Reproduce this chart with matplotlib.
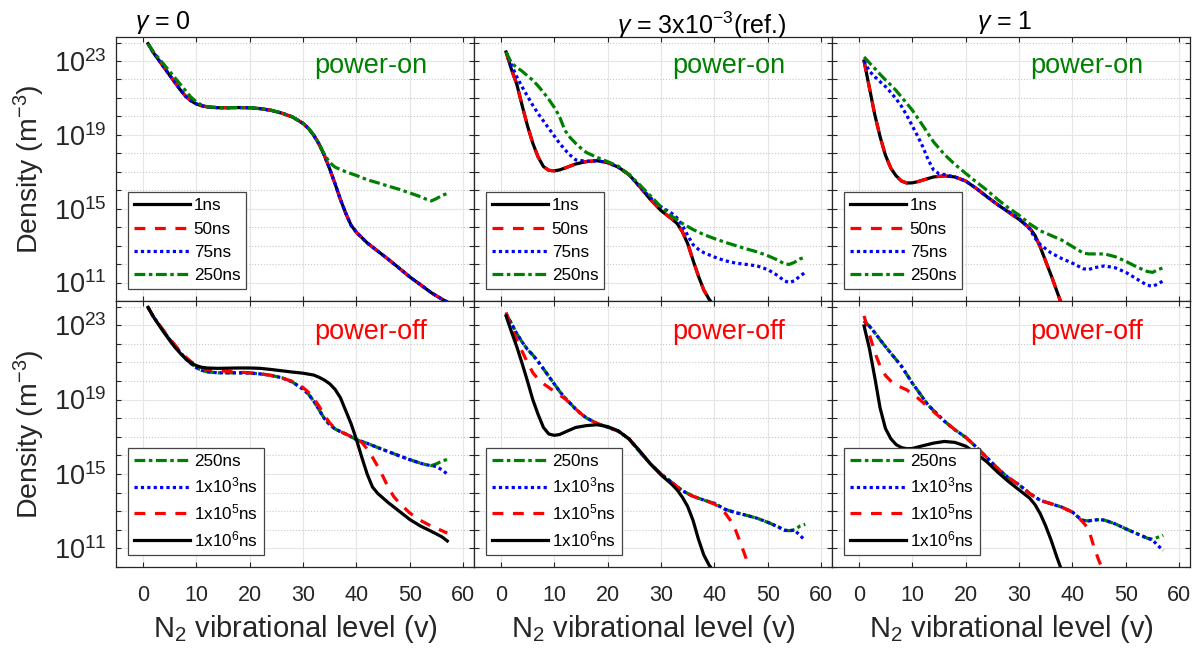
import numpy as np
import matplotlib
matplotlib.use("Agg")
import matplotlib.pyplot as plt
from matplotlib.ticker import FixedLocator, LogFormatterSciNotation, NullFormatter

plt.rcParams["font.family"] = ["Liberation Sans", "DejaVu Sans"]
plt.rcParams["mathtext.fontset"] = "custom"
plt.rcParams["mathtext.rm"] = "Liberation Sans"
plt.rcParams["mathtext.it"] = "Liberation Sans:italic"
plt.rcParams["mathtext.default"] = "regular"

# ---------------- DATA (log10 of density, m^-3) ----------------

# gamma = 0, power-on
v_on0 = [1, 2, 3, 4, 5, 6, 7, 8, 9, 10, 11, 12, 14, 16, 18, 20, 22, 24, 26, 28, 29, 30,
         31, 32, 33, 34, 35, 36, 37, 38, 39, 40, 42, 44, 46, 48, 50, 52, 54, 56, 57]
on0_1ns = [23.94, 23.45, 23.05, 22.65, 22.25, 21.85, 21.45, 21.1, 20.85, 20.68, 20.58, 20.52,
           20.47, 20.47, 20.48, 20.47, 20.42, 20.33, 20.18, 19.97, 19.8, 19.62, 19.35, 18.98,
           18.5, 17.88, 17.15, 16.35, 15.5, 14.75, 14.1, 13.72, 13.15, 12.7, 12.25, 11.78,
           11.3, 10.88, 10.45, 10.1, 9.95]
on0_50ns = list(on0_1ns)
on0_75ns = list(on0_1ns)
v_on0_250 = [1, 2, 3, 4, 5, 6, 7, 8, 9, 10, 11, 12, 14, 16, 18, 20, 22, 24, 26, 28, 30, 31,
             32, 33, 34, 35, 36, 38, 40, 42, 44, 46, 48, 50, 52, 53, 54, 55, 56, 57]
on0_250ns = [23.94, 23.5, 23.15, 22.8, 22.45, 22.1, 21.75, 21.4, 21.05, 20.8, 20.62, 20.53,
             20.48, 20.47, 20.48, 20.47, 20.42, 20.34, 20.19, 19.98, 19.63, 19.37, 19.0,
             18.52, 17.95, 17.5, 17.25, 17.0, 16.8, 16.57, 16.4, 16.22, 16.05, 15.85, 15.65,
             15.52, 15.42, 15.55, 15.72, 15.82]

# gamma = 0, power-off
v_off0 = [1, 2, 3, 4, 5, 6, 7, 8, 9, 10, 11, 12, 14, 16, 18, 20, 22, 24, 26, 28, 30, 31, 32,
          33, 34, 35, 36, 37, 38, 40, 42, 44, 46, 48, 50, 52, 53, 54, 55, 56, 57]
off0_250ns = [23.96, 23.45, 23.05, 22.65, 22.25, 21.9, 21.55, 21.2, 20.95, 20.72, 20.58, 20.5,
              20.44, 20.44, 20.44, 20.43, 20.38, 20.3, 20.18, 19.95, 19.56, 19.3, 18.92,
              18.45, 17.98, 17.65, 17.42, 17.28, 17.15, 16.85, 16.65, 16.42, 16.2, 15.98,
              15.77, 15.58, 15.5, 15.45, 15.55, 15.7, 15.78]
off0_1e3ns = [23.96, 23.45, 23.05, 22.65, 22.25, 21.9, 21.55, 21.2, 20.95, 20.72, 20.58, 20.5,
              20.44, 20.44, 20.44, 20.43, 20.38, 20.3, 20.18, 19.95, 19.56, 19.3, 18.92,
              18.45, 17.98, 17.65, 17.42, 17.28, 17.15, 16.85, 16.65, 16.42, 16.2, 15.98,
              15.77, 15.58, 15.5, 15.45, 15.4, 15.22, 15.0]
v_off0_1e5 = [1, 2, 3, 4, 5, 6, 7, 8, 9, 10, 11, 12, 14, 16, 18, 20, 22, 24, 26, 28, 30, 31,
              32, 33, 34, 35, 36, 37, 38, 40, 41, 42, 43, 44, 45, 46, 47, 48, 50, 52, 54, 56, 57]
off0_1e5ns = [23.96, 23.45, 23.05, 22.68, 22.3, 21.95, 21.6, 21.3, 21.05, 20.85, 20.72, 20.62,
              20.55, 20.52, 20.48, 20.44, 20.4, 20.3, 20.17, 19.98, 19.65, 19.4, 19.05, 18.65,
              18.15, 17.75, 17.45, 17.28, 17.15, 16.88, 16.7, 16.35, 15.9, 15.4, 14.85, 14.25,
              13.78, 13.45, 12.9, 12.5, 12.2, 11.95, 11.82]
v_off0_1e6 = [1, 2, 3, 4, 5, 6, 7, 8, 9, 10, 11, 12, 14, 16, 18, 20, 22, 24, 26, 28, 30, 32,
              33, 34, 35, 36, 37, 38, 39, 40, 41, 42, 43, 44, 46, 48, 50, 52, 54, 56, 57]
off0_1e6ns = [23.96, 23.45, 23.02, 22.6, 22.2, 21.82, 21.5, 21.2, 20.98, 20.83, 20.74, 20.7,
              20.68, 20.69, 20.7, 20.7, 20.68, 20.62, 20.55, 20.48, 20.42, 20.32, 20.2, 20.05,
              19.85, 19.55, 19.1, 18.4, 17.7, 16.85, 15.9, 15.0, 14.3, 13.95, 13.45, 13.0,
              12.55, 12.2, 11.92, 11.62, 11.4]

# gamma = 3e-3, power-on
v_on3_1 = [1, 2, 3, 4, 5, 6, 7, 8, 9, 10, 11, 12, 14, 16, 18, 20, 22, 24, 26, 28, 30, 32, 33,
           34, 35, 36, 37, 38, 39, 40]
on3_1ns = [23.49, 22.55, 21.75, 20.6, 19.5, 18.55, 17.8, 17.28, 17.08, 17.05, 17.1, 17.2, 17.42,
           17.55, 17.6, 17.5, 17.25, 16.85, 16.2, 15.5, 14.9, 14.45, 14.2, 13.75, 13.1, 12.2,
           11.35, 10.6, 10.1, 9.7]
on3_50ns = list(on3_1ns)
v_on3_75 = [1, 2, 3, 4, 5, 6, 7, 8, 9, 10, 11, 12, 13, 14, 16, 18, 20, 22, 24, 26, 28, 30, 32,
            33, 34, 35, 36, 37, 38, 40, 42, 44, 46, 48, 50, 52, 53, 54, 55, 56, 57]
on3_75ns = [23.49, 22.8, 22.15, 21.6, 21.1, 20.6, 20.15, 19.75, 19.35, 18.95, 18.55, 18.2, 17.9,
            17.65, 17.57, 17.6, 17.5, 17.25, 16.85, 16.2, 15.6, 15.1, 14.75, 14.5, 14.1, 13.55,
            13.05, 12.8, 12.62, 12.38, 12.18, 12.05, 11.98, 11.9, 11.7, 11.35, 11.1, 11.0, 11.1,
            11.35, 11.55]
v_on3_250 = [1, 2, 3, 4, 5, 6, 7, 8, 9, 10, 11, 12, 13, 14, 15, 16, 18, 20, 22, 24, 26, 28, 30,
             32, 34, 36, 38, 40, 42, 44, 46, 48, 50, 52, 53, 54, 55, 56, 57]
on3_250ns = [23.49, 22.9, 22.65, 22.45, 22.2, 21.96, 21.65, 21.3, 20.92, 20.5, 20.0, 19.25,
             18.85, 18.55, 18.28, 18.05, 17.78, 17.55, 17.3, 16.85, 16.3, 15.7, 15.1, 14.6,
             14.2, 13.87, 13.6, 13.38, 13.18, 13.0, 12.82, 12.66, 12.45, 12.2, 12.02, 11.98,
             12.1, 12.28, 12.38]

# gamma = 3e-3, power-off
v_off3 = [1, 2, 3, 4, 5, 6, 7, 8, 9, 10, 11, 12, 13, 14, 15, 16, 18, 20, 22, 24, 26, 28, 30,
          32, 34, 36, 38, 40, 42, 44, 46, 48, 50, 52, 53, 54, 55, 56, 57]
off3_250ns = [23.59, 23.1, 22.55, 22.1, 21.7, 21.4, 21.05, 20.65, 20.25, 19.85, 19.45, 19.1,
              18.8, 18.5, 18.25, 18.02, 17.72, 17.52, 17.3, 16.9, 16.2, 15.55, 15.0, 14.55,
              14.1, 13.8, 13.6, 13.42, 13.1, 12.92, 12.78, 12.62, 12.4, 12.15, 11.98, 11.95,
              12.0, 12.2, 12.3]
off3_1e3ns = [23.59, 23.1, 22.55, 22.1, 21.7, 21.4, 21.05, 20.65, 20.25, 19.85, 19.45, 19.1,
              18.8, 18.5, 18.25, 18.02, 17.72, 17.52, 17.3, 16.9, 16.2, 15.55, 15.0, 14.55,
              14.1, 13.8, 13.6, 13.42, 13.1, 12.92, 12.78, 12.62, 12.4, 12.15, 11.98, 11.95,
              11.98, 11.7, 11.43]
v_off3_1e5 = [1, 2, 3, 4, 5, 6, 7, 8, 9, 10, 11, 12, 13, 14, 15, 16, 18, 20, 22, 24, 26, 28,
              30, 32, 34, 36, 38, 40, 41, 42, 43, 44, 45, 46, 47]
off3_1e5ns = [23.69, 22.9, 22.2, 21.6, 21.0, 20.45, 20.1, 19.85, 19.65, 19.45, 19.25, 19.05,
              18.8, 18.5, 18.25, 18.02, 17.72, 17.52, 17.3, 16.9, 16.2, 15.55, 15.0, 14.55,
              14.1, 13.8, 13.6, 13.38, 13.2, 12.9, 12.5, 11.95, 11.2, 10.4, 9.7]
v_off3_1e6 = [1, 2, 3, 4, 5, 6, 7, 8, 9, 10, 11, 12, 14, 16, 18, 20, 22, 24, 26, 28, 30, 32,
              33, 34, 35, 36, 37, 38, 39, 40]
off3_1e6ns = [23.5, 22.65, 21.85, 20.95, 20.0, 19.0, 18.2, 17.5, 17.15, 17.08, 17.12, 17.25,
              17.5, 17.6, 17.65, 17.55, 17.32, 16.88, 16.25, 15.55, 14.95, 14.45, 14.15, 13.75,
              13.25, 12.5, 11.5, 10.65, 10.1, 9.7]

# gamma = 1, power-on
v_on1_1 = [1, 2, 3, 4, 5, 6, 7, 8, 9, 10, 11, 12, 14, 16, 18, 20, 22, 24, 26, 28, 30, 32, 33,
           34, 35, 36, 37, 38]
on1_1ns = [23.0, 21.55, 20.1, 18.9, 17.9, 17.2, 16.78, 16.5, 16.39, 16.4, 16.46, 16.55, 16.72,
           16.78, 16.72, 16.5, 16.1, 15.65, 15.22, 14.82, 14.42, 13.95, 13.55, 12.9, 12.15,
           11.4, 10.6, 9.8]
on1_50ns = list(on1_1ns)
v_on1_75 = [1, 2, 3, 4, 5, 6, 7, 8, 9, 10, 11, 12, 13, 14, 15, 16, 18, 20, 22, 24, 26, 28, 30,
            32, 33, 34, 36, 38, 40, 42, 43, 44, 46, 48, 50, 52, 54, 55, 56, 57]
on1_75ns = [23.0, 22.45, 22.15, 21.88, 21.62, 21.3, 20.95, 20.55, 20.05, 19.5, 18.95, 18.35,
            17.65, 17.1, 16.9, 16.85, 16.72, 16.5, 16.1, 15.65, 15.22, 14.85, 14.48, 13.9,
            13.4, 13.05, 12.6, 12.3, 12.05, 11.75, 11.7, 11.8, 11.9, 11.8, 11.55, 11.2, 10.85,
            10.8, 10.92, 11.1]
v_on1_250 = [1, 2, 3, 4, 5, 6, 7, 8, 9, 10, 12, 14, 16, 18, 20, 22, 24, 26, 28, 30, 32, 34, 36,
             38, 40, 42, 43, 44, 46, 48, 50, 52, 54, 55, 56, 57]
on1_250ns = [23.22, 22.9, 22.6, 22.28, 21.98, 21.7, 21.4, 21.05, 20.7, 20.35, 19.5, 18.62,
             17.95, 17.4, 16.92, 16.45, 16.0, 15.5, 15.05, 14.65, 14.18, 13.8, 13.55, 13.3,
             12.95, 12.6, 12.55, 12.55, 12.55, 12.4, 12.15, 11.85, 11.6, 11.55, 11.7, 11.8]

# gamma = 1, power-off
v_off1 = [1, 2, 3, 4, 5, 6, 7, 8, 9, 10, 11, 12, 13, 14, 16, 18, 20, 22, 24, 26, 28, 30, 32,
          34, 36, 38, 40, 41, 42, 43, 44, 45, 46, 48, 50, 52, 54, 55, 56, 57]
off1_250ns = [23.23, 22.95, 22.6, 22.22, 21.85, 21.5, 21.15, 20.8, 20.35, 19.9, 19.5, 19.1,
              18.7, 18.42, 17.85, 17.38, 16.98, 16.45, 15.88, 15.3, 14.8, 14.42, 13.95, 13.58,
              13.4, 13.22, 12.95, 12.7, 12.5, 12.48, 12.52, 12.55, 12.52, 12.32, 12.05, 11.8,
              11.55, 11.5, 11.6, 11.7]
off1_1e3ns = [23.23, 22.95, 22.6, 22.22, 21.85, 21.5, 21.15, 20.8, 20.35, 19.9, 19.5, 19.1,
              18.7, 18.42, 17.85, 17.38, 16.98, 16.45, 15.88, 15.3, 14.8, 14.42, 13.95, 13.58,
              13.4, 13.22, 12.95, 12.7, 12.5, 12.48, 12.52, 12.55, 12.52, 12.32, 12.05, 11.8,
              11.55, 11.45, 11.15, 10.89]
v_off1_1e5 = [1, 2, 3, 4, 5, 6, 7, 8, 9, 10, 11, 12, 13, 14, 16, 18, 20, 22, 24, 26, 28, 30,
              32, 34, 36, 38, 40, 41, 42, 43, 44, 45, 46]
off1_1e5ns = [23.5, 22.5, 21.55, 20.8, 20.3, 20.0, 19.8, 19.65, 19.52, 19.3, 19.1, 18.85, 18.6,
              18.35, 17.85, 17.38, 16.98, 16.45, 15.88, 15.3, 14.8, 14.42, 13.95, 13.58, 13.4,
              13.22, 12.95, 12.7, 12.4, 12.05, 11.1, 10.3, 9.7]
v_off1_1e6 = [1, 2, 3, 4, 5, 6, 7, 8, 9, 10, 12, 14, 16, 18, 20, 22, 24, 26, 28, 30, 32, 33,
              34, 35, 36, 37, 38]
off1_1e6ns = [22.96, 21.75, 20.2, 18.55, 17.45, 16.9, 16.58, 16.42, 16.36, 16.37, 16.52, 16.66,
              16.75, 16.7, 16.5, 16.1, 15.65, 15.1, 14.6, 14.15, 13.7, 13.35, 12.85, 12.2,
              11.45, 10.6, 9.8]

on_labels = ["1ns", "50ns", "75ns", "250ns"]
off_labels = ["250ns", "1x10$^3$ns", "1x10$^5$ns", "1x10$^6$ns"]
titles = ["$\\mathit{\\gamma}$ = 0", "$\\mathit{\\gamma}$ = 3x10$^{-3}$(ref.)",
          "$\\mathit{\\gamma}$ = 1"]

# ---------------- STYLES ----------------
GREEN = "#008000"
sty_black = dict(color="black", linestyle="-")
sty_red = dict(color="red", linestyle=(0, (3.4, 3.0)))
sty_blue = dict(color="blue", linestyle=(0, (1.0, 1.0)))
sty_green = dict(color=GREEN, linestyle=(0, (3.4, 1.1, 1.1, 1.1)))
on_styles = [sty_black, sty_red, sty_blue, sty_green]
off_styles = [sty_green, sty_blue, sty_red, sty_black]

on_series = [
    [(v_on0, on0_1ns), (v_on0, on0_50ns), (v_on0, on0_75ns), (v_on0_250, on0_250ns)],
    [(v_on3_1, on3_1ns), (v_on3_1, on3_50ns), (v_on3_75, on3_75ns), (v_on3_250, on3_250ns)],
    [(v_on1_1, on1_1ns), (v_on1_1, on1_50ns), (v_on1_75, on1_75ns), (v_on1_250, on1_250ns)],
]
off_series = [
    [(v_off0, off0_250ns), (v_off0, off0_1e3ns), (v_off0_1e5, off0_1e5ns), (v_off0_1e6, off0_1e6ns)],
    [(v_off3, off3_250ns), (v_off3, off3_1e3ns), (v_off3_1e5, off3_1e5ns), (v_off3_1e6, off3_1e6ns)],
    [(v_off1, off1_250ns), (v_off1, off1_1e3ns), (v_off1_1e5, off1_1e5ns), (v_off1_1e6, off1_1e6ns)],
]

# ---------------- FIGURE ----------------
fig = plt.figure(figsize=(12.01, 6.59), dpi=100)
W, H = 1201.0, 659.0
col_left = [116, 474, 832]
col_w = 358
rows = [(37, 301), (301, 567)]

AX_COL = (0.15, 0.15, 0.15)
title_x = [0.053, 0.399, 0.404]
title_y = [1.03, 1.01, 1.03]

for r in range(2):
    top, bot = rows[r]
    for c in range(3):
        ax = fig.add_axes([col_left[c] / W, (H - bot) / H, col_w / W, (bot - top) / H])
        series = on_series[c] if r == 0 else off_series[c]
        styles = on_styles if r == 0 else off_styles
        labels = on_labels if r == 0 else off_labels
        for (v, n), st, lab in zip(series, styles, labels):
            ax.plot(v, 10.0 ** np.array(n), lw=2.3, label=lab, **st)

        ax.set_yscale("log")
        ax.set_xlim(-5, 62)
        ax.set_ylim(1e10, 2e24)
        ax.set_xticks(range(0, 61, 10))
        ax.yaxis.set_major_locator(FixedLocator([1e11, 1e15, 1e19, 1e23]))
        ax.yaxis.set_minor_locator(FixedLocator(10.0 ** np.arange(10, 25)))
        ax.yaxis.set_minor_formatter(NullFormatter())
        ax.yaxis.set_major_formatter(LogFormatterSciNotation())
        ax.tick_params(which="both", direction="in", top=True, right=True,
                       length=3.5, width=0.8, color=AX_COL, labelcolor=AX_COL)
        ax.tick_params(axis="x", labelsize=15.5, pad=13)
        ax.tick_params(axis="y", labelsize=19.5, pad=7)
        for sp in ax.spines.values():
            sp.set_color(AX_COL)
            sp.set_linewidth(0.9)
        ax.grid(True, which="major", color="#e6e6e6", linewidth=0.8, linestyle="-")
        ax.grid(True, which="minor", axis="y", color="#c8c8c8", linewidth=0.8, linestyle=":")
        ax.set_axisbelow(True)

        if c > 0:
            ax.tick_params(axis="y", labelleft=False)
        else:
            ax.set_ylabel("Density (m$^{-3}$)", fontsize=20.5, color=AX_COL, labelpad=5)
        if r == 0:
            ax.tick_params(axis="x", labelbottom=False)
            ax.text(title_x[c], title_y[c], titles[c], transform=ax.transAxes, fontsize=18,
                    ha="left", va="baseline", color="black")
            ax.text(0.553, 0.864, "power-on", transform=ax.transAxes, fontsize=19.5,
                    color=GREEN, ha="left", va="baseline")
        else:
            ax.set_xlabel("N$_2$ vibrational level (v)", fontsize=21, color=AX_COL, labelpad=5)
            ax.text(0.553, 0.856, "power-off", transform=ax.transAxes, fontsize=19.5,
                    color="red", ha="left", va="baseline")

        leg = ax.legend(loc="lower left", fontsize=12.3, handlelength=3.3, handletextpad=0.2,
                        labelspacing=0.48 if r == 0 else 0.4, borderpad=0.35,
                        borderaxespad=0.7, fancybox=False, framealpha=1.0,
                        edgecolor="#444444")
        leg.get_frame().set_linewidth(0.9)

fig.savefig("out.png", dpi=100)
